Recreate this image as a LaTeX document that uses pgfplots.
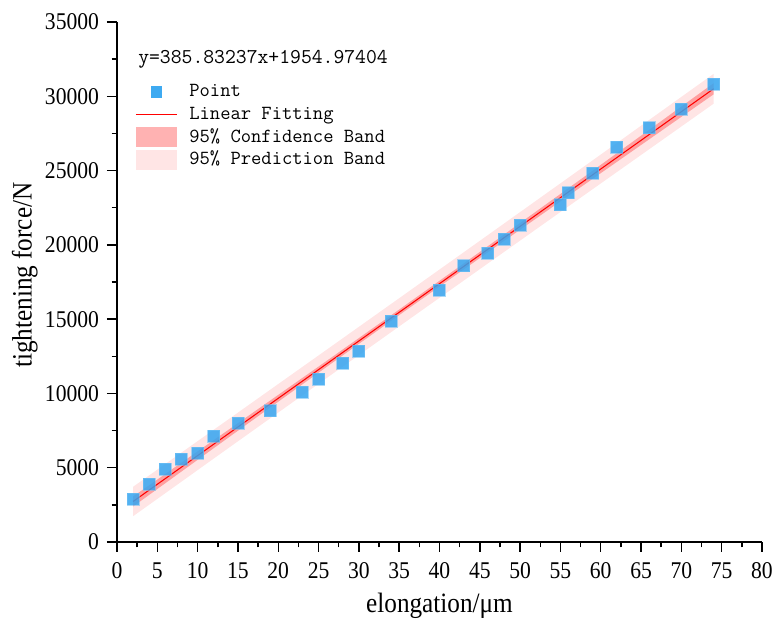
\documentclass[border=0pt]{standalone}
\usepackage{fontspec}
\setmainfont{Liberation Serif}[FakeStretch=0.9]
\usepackage{pgfplots}
\pgfplotsset{compat=1.18}
\definecolor{pointblue}{RGB}{52,165,240}
\definecolor{fitred}{RGB}{255,0,0}
\begin{document}
\begin{tikzpicture}
\useasboundingbox (-87.75pt,-58.5pt) rectangle (491.25pt,406.5pt);
\begin{axis}[
  scale only axis, width=483.75pt, height=390pt,
  xmin=0, xmax=80, ymin=0, ymax=35000,
  axis x line*=bottom, axis y line*=left,
  axis line style={line width=1.1pt},
  xtick={0,5,...,80}, ytick={0,5000,...,35000},
  minor x tick num=1, minor y tick num=1,
  tick align=outside, major tick length=7.5pt, minor tick length=4pt,
  every tick/.style={black, line width=1.1pt},
  scaled y ticks=false,
  /pgf/number format/assume math mode=true,
  /pgf/number format/set thousands separator={},
  tick label style={font=\fontsize{18}{20}\selectfont},
  xticklabel style={yshift=-4.5pt},
  yticklabel style={xshift=-2.5pt},
  label style={font=\fontsize{21}{24}\selectfont},
  xlabel={elongation/μm}, ylabel={tightening force/N},
  xlabel style={at={(rel axis cs:0.5,-0.123)}, anchor=center},
  ylabel style={at={(rel axis cs:-0.143,0.513)}, anchor=center},
  legend cell align=left,
  legend style={at={(rel axis cs:0.028,0.885)}, anchor=north west, draw=none, fill=none,
    inner sep=0pt, row sep=2pt, column sep=9pt,
    font=\ttfamily\fontsize{15}{17}\selectfont,
    nodes={inner sep=0pt, text height=11pt, text depth=4pt}},
]
% 95% prediction band
\addplot[draw=none, fill=fitred, fill opacity=0.1, forget plot] coordinates {
  (2,3717) (14,8323) (26,12940) (35.4,16562) (46,20657) (58,25301) (74,31510)
  (74,29502) (58,23365) (46,18749) (35.4,14664) (26,11034) (14,6391) (2,1737)
} -- cycle;
% 95% confidence band
\addplot[draw=none, fill=fitred, fill opacity=0.3, forget plot] coordinates {
  (2,3064) (14,7616) (26,12189) (35.4,15799) (46,19910) (58,24599) (74,30881)
  (74,30131) (58,24067) (46,19496) (35.4,15427) (26,11785) (14,7098) (2,2390)
} -- cycle;
% linear fit
\addplot[fitred, line width=0.8pt, forget plot] coordinates {(2,2726.6) (74,30506.3)};
% points
\addplot[only marks, mark=square*, mark size=4.5pt,
  mark options={fill=pointblue, draw=pointblue!70!white, fill opacity=0.85, draw opacity=0.6, line width=0.6pt},
  forget plot] coordinates {
  (2,2870) (4,3880) (6,4890) (8,5590) (10,5970) (12,7130) (15,8010) (19,8840)
  (23,10100) (25,10950) (28,12030) (30,12840) (34,14850) (40,16960) (43,18600)
  (46,19430) (48,20390) (50,21340) (55,22700) (56,23510) (59,24840) (62,26590)
  (66,27880) (70,29120) (74,30810)
};
\node[anchor=west, inner sep=0pt, font=\ttfamily\fontsize{15.8}{18}\selectfont]
  at (rel axis cs:0.0326,0.929) {y=385.83237x+1954.97404};
\addlegendimage{legend image code/.code={\path[draw=none, fill=pointblue, fill opacity=0.95] (11.1pt,-4.2pt) rectangle (19.5pt,4.2pt); \path (0pt,0pt) (30.75pt,0pt);}}
\addlegendentry{Point}
\addlegendimage{legend image code/.code={\draw[color=fitred, draw=fitred, line width=0.8pt] (0pt,0pt) -- (30.75pt,0pt);}}
\addlegendentry{Linear Fitting}
\addlegendimage{legend image code/.code={\path[draw=none, fill=fitred, fill opacity=0.3] (0pt,-7.5pt) rectangle (30.75pt,7.5pt);}}
\addlegendentry{95\% Confidence Band}
\addlegendimage{legend image code/.code={\path[draw=none, fill=fitred, fill opacity=0.1] (0pt,-7.5pt) rectangle (30.75pt,7.5pt);}}
\addlegendentry{95\% Prediction Band}
\end{axis}
\end{tikzpicture}
\end{document}
